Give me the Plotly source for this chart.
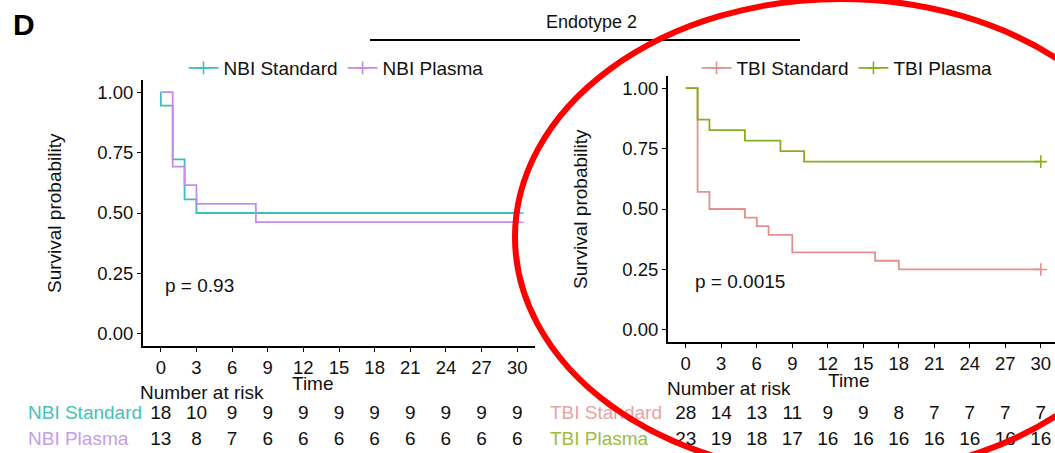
import plotly.graph_objects as go

W, H = 1055, 453

# ---------------- data ----------------
TIME_TICKS = [0, 3, 6, 9, 12, 15, 18, 21, 24, 27, 30]
Y_TICKS = [0.0, 0.25, 0.50, 0.75, 1.00]
Y_TICKTEXT = ["0.00", "0.25", "0.50", "0.75", "1.00"]

nbi_std_time = [0, 0, 1, 2, 3, 30]
nbi_std_surv = [1.0, 0.944, 0.722, 0.556, 0.500, 0.500]
nbi_pla_time = [0, 1, 2, 3, 8, 30]
nbi_pla_surv = [1.0, 0.692, 0.615, 0.538, 0.462, 0.462]

tbi_std_time = [0, 1, 2, 5, 6, 7, 9, 16, 18, 30]
tbi_std_surv = [1.0, 0.571, 0.500, 0.464, 0.429, 0.393, 0.321, 0.286, 0.250, 0.250]
tbi_pla_time = [0, 1, 2, 5, 8, 10, 30]
tbi_pla_surv = [1.0, 0.870, 0.826, 0.783, 0.739, 0.696, 0.696]

censor_time = 30

nbi_std_risk = [18, 10, 9, 9, 9, 9, 9, 9, 9, 9, 9]
nbi_pla_risk = [13, 8, 7, 6, 6, 6, 6, 6, 6, 6, 6]
tbi_std_risk = [28, 14, 13, 11, 9, 9, 8, 7, 7, 7, 7]
tbi_pla_risk = [23, 19, 18, 17, 16, 16, 16, 16, 16, 16, 16]

p_left = "p = 0.93"
p_right = "p = 0.0015"

NAMES_L = ["NBI Standard", "NBI Plasma"]
NAMES_R = ["TBI Standard", "TBI Plasma"]

# ---------------- style ----------------
FONT = "Liberation Sans, Arial, sans-serif"
C_NBI_STD = "#3BBFB8"
C_NBI_PLA = "#C48AEC"
C_TBI_STD = "#E68F8F"
C_TBI_PLA = "#86AE1E"
T_NBI_STD = "#45C2BA"
T_NBI_PLA = "#C99BF0"
T_TBI_STD = "#EAA2A2"
T_TBI_PLA = "#9DBD3C"
FS = 19


def px(x):
    return x / W


def py(y):
    return 1 - y / H


# panel geometry (pixels)
L_LEFT, L_RIGHT = 143, 535
R_LEFT, R_RIGHT = 668, 1055
XL_MIN, XL_MAX = -1.5, 31.5
XR_MIN, XR_MAX = -1.5, 31.2

fig = go.Figure()


def km(t, s, color, xa, ya, name):
    fig.add_trace(go.Scatter(x=t, y=s, mode="lines", line=dict(color=color, width=1.8, shape="hv"),
                             xaxis=xa, yaxis=ya, showlegend=False, name=name, hoverinfo="skip"))
    fig.add_trace(go.Scatter(x=[censor_time], y=[s[-1]], mode="markers",
                             marker=dict(symbol="cross-thin", size=9, line=dict(color=color, width=1.6)),
                             xaxis=xa, yaxis=ya, showlegend=False, hoverinfo="skip"))


def legend_item(name, color, legend):
    fig.add_trace(go.Scatter(x=[None], y=[None], mode="lines+markers", name=name,
                             line=dict(color=color, width=1.8),
                             marker=dict(symbol="cross-thin", size=9, line=dict(color=color, width=1.6)),
                             legend=legend, showlegend=True))


km(nbi_std_time, nbi_std_surv, C_NBI_STD, "x", "y", NAMES_L[0])
km(nbi_pla_time, nbi_pla_surv, C_NBI_PLA, "x", "y", NAMES_L[1])
km(tbi_std_time, tbi_std_surv, C_TBI_STD, "x2", "y2", NAMES_R[0])
km(tbi_pla_time, tbi_pla_surv, C_TBI_PLA, "x2", "y2", NAMES_R[1])

legend_item(NAMES_L[0], C_NBI_STD, "legend")
legend_item(NAMES_L[1], C_NBI_PLA, "legend")
legend_item(NAMES_R[0], C_TBI_STD, "legend2")
legend_item(NAMES_R[1], C_TBI_PLA, "legend2")


def risk_table(names, risks, tcolors, xa, ya, xa_lab):
    for nm, rk in zip(names, risks):
        fig.add_trace(go.Scatter(x=TIME_TICKS, y=[nm] * len(TIME_TICKS), text=[str(v) for v in rk],
                                 mode="text", textposition="middle center",
                                 textfont=dict(family=FONT, size=FS, color="#111111"),
                                 xaxis=xa, yaxis=ya, showlegend=False, cliponaxis=False, hoverinfo="skip"))
    # row labels, left-aligned on their own (hidden) label axis
    fig.add_trace(go.Scatter(x=[0] * len(names), y=names, text=names, mode="text",
                             textposition="middle right",
                             textfont=dict(family=FONT, size=FS, color=tcolors),
                             xaxis=xa_lab, yaxis=ya, showlegend=False, cliponaxis=False, hoverinfo="skip"))


risk_table(NAMES_L, [nbi_std_risk, nbi_pla_risk], [T_NBI_STD, T_NBI_PLA], "x", "y3", "x3")
risk_table(NAMES_R, [tbi_std_risk, tbi_pla_risk], [T_TBI_STD, T_TBI_PLA], "x2", "y4", "x4")

axis_common = dict(showline=True, linecolor="black", linewidth=2, ticks="outside", ticklen=4,
                   tickwidth=1, tickcolor="black", showgrid=False, zeroline=False,
                   tickfont=dict(family=FONT, size=18.5, color="#111111"))

fig.update_layout(
    width=W, height=H, margin=dict(l=0, r=0, t=0, b=0),
    paper_bgcolor="white", plot_bgcolor="white",
    font=dict(family=FONT, size=FS, color="#111111"),
    xaxis=dict(domain=[px(L_LEFT), px(L_RIGHT)], range=[XL_MIN, XL_MAX], anchor="y",
               tickvals=TIME_TICKS, **axis_common),
    yaxis=dict(domain=[py(346), py(80)], range=[-0.05, 1.05], anchor="x",
               tickvals=Y_TICKS, ticktext=Y_TICKTEXT, **axis_common),
    xaxis2=dict(domain=[px(R_LEFT), px(R_RIGHT)], range=[XR_MIN, XR_MAX], anchor="y2",
                tickvals=TIME_TICKS, **axis_common),
    yaxis2=dict(domain=[py(342), py(76)], range=[-0.05, 1.05], anchor="x2",
                tickvals=Y_TICKS, ticktext=Y_TICKTEXT, **axis_common),
    xaxis3=dict(domain=[px(28), px(L_LEFT)], range=[0, 1], anchor="y3", visible=False),
    xaxis4=dict(domain=[px(550), px(R_LEFT)], range=[0, 1], anchor="y4", visible=False),
    yaxis3=dict(domain=[0, py(401.5)], anchor="x", type="category",
                categoryarray=NAMES_L[::-1], range=[-0.5, 1.5], visible=False),
    yaxis4=dict(domain=[0, py(401.5)], anchor="x2", type="category",
                categoryarray=NAMES_R[::-1], range=[-0.5, 1.5], visible=False),
    legend=dict(orientation="h", x=px(336), y=py(68), xanchor="center", yanchor="middle",
                font=dict(family=FONT, size=FS, color="#111111"), bgcolor="rgba(0,0,0,0)",
                itemwidth=30, traceorder="normal"),
    legend2=dict(orientation="h", x=px(847), y=py(68), xanchor="center", yanchor="middle",
                 font=dict(family=FONT, size=FS, color="#111111"), bgcolor="rgba(0,0,0,0)",
                 itemwidth=30, traceorder="normal"),
)

ann = []


def add_text(text, x, y, size=FS, xanchor="center", angle=0, color="#111111"):
    ann.append(dict(text=text, x=px(x), y=py(y), xref="paper", yref="paper", showarrow=False,
                    xanchor=xanchor, yanchor="middle", textangle=angle,
                    font=dict(family=FONT, size=size, color=color)))


add_text("<b>D</b>", 24, 25, size=30, color="black")
add_text("Endotype 2", 591, 22, size=18)
add_text("Survival probability", 55, 213, angle=-90)
add_text("Survival probability", 580, 209, angle=-90)
add_text("Time", 313, 383)
add_text("Time", 849, 380)
add_text("Number at risk", 138, 392, xanchor="left")
add_text("Number at risk", 665, 388, xanchor="left")

ann.append(dict(text=p_left, x=0.2, y=0.2, xref="x", yref="y", xanchor="left", yanchor="middle",
                showarrow=False, font=dict(family=FONT, size=FS, color="#111111")))
ann.append(dict(text=p_right, x=0.6, y=0.2, xref="x2", yref="y2", xanchor="left", yanchor="middle",
                showarrow=False, font=dict(family=FONT, size=FS, color="#111111")))
fig.update_layout(annotations=ann)

fig.update_layout(shapes=[
    dict(type="line", xref="paper", yref="paper", x0=px(370), x1=px(800), y0=py(40), y1=py(40),
         line=dict(color="black", width=2), layer="above"),
    dict(type="circle", xref="paper", yref="paper", x0=px(515), x1=px(1167), y0=py(475), y1=py(-1),
         line=dict(color="#FF0000", width=6), layer="above"),
])

fig.write_html("out.html")
